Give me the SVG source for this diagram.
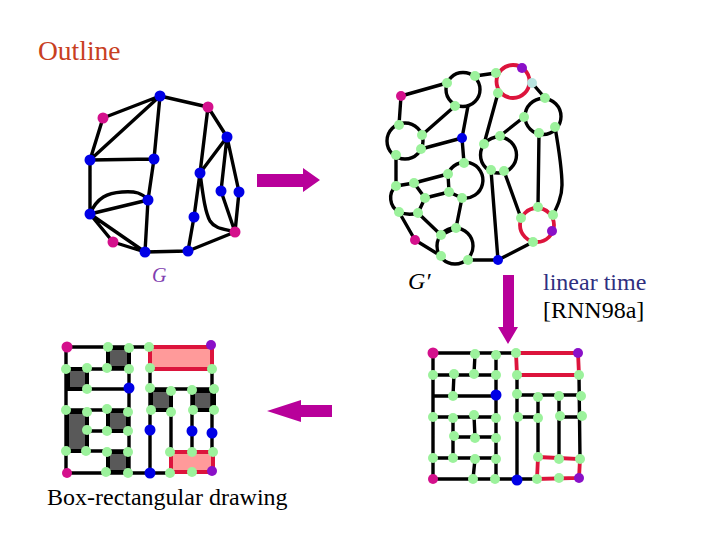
<svg xmlns="http://www.w3.org/2000/svg" width="720" height="540" viewBox="0 0 720 540">
<style>
.e{fill:none;stroke:#000;stroke-width:3.4;stroke-linecap:round;stroke-linejoin:round}
.r{fill:none;stroke:#dc143c;stroke-width:3.8;stroke-linecap:round}
.f{fill:#ff9a9a;stroke:#dc143c;stroke-width:4}
.k{fill:#595959;stroke:#000;stroke-width:4}
.g circle{fill:#9cf29c}
.b circle{fill:#0000e6}
.m circle{fill:#d4108c}
.p circle{fill:#8a10c8}
.c circle{fill:#b8e4e0}
.a{fill:#b8009a}
text{font-family:"Liberation Serif","Times New Roman",serif}
</style>
<rect width="720" height="540" fill="#fff"/>
<text x="38" y="60" font-size="27.500" fill="#c8401f">Outline</text>
<text x="152" y="282" font-size="20" font-style="italic" fill="#8040b0">G</text>
<text x="408" y="289" font-size="24" font-style="italic" fill="#000">G′</text>
<text x="543" y="290" font-size="24" fill="#2f2f80">linear time</text>
<text x="543" y="318" font-size="24" fill="#000">[RNN98a]</text>
<text x="47" y="505" font-size="24" fill="#000">Box-rectangular drawing</text>
<polygon class="a" points="257,174 303,174 303,168 320,180 303,192 303,187 257,187"/>
<polygon class="a" points="503,275 514,275 514,327 518,327 508,344 498,327 503,327"/>
<polygon class="a" points="332,405 301,405 301,400 267,411 301,422 301,417 332,417"/>
<g id="connectors">
<path class="e" d="M160 96L103 118M160 96L208 107M160 96L90 160M160 96L154 159M103 118L90 160M90 160L154 159M90 160L90 214M154 159L148 200M148 200L145 252M90 214L148 200M90 214C97 197 108 193 122 192C136 191 142 193 148 200M90 214L113 242M113 242L145 252M90 214L145 252M145 252L188 251M188 251L235 232M188 251L194 217M194 217L200 173M200 173L208 107M208 107L227 137M227 137L200 173M227 137L221 191M227 137L239 192M221 191L235 232M239 192L235 232M200 173C203 195 205 212 210 221C215 229 225 229 235 232"/>
<path class="e" d="M401 96L447 83M401 96L399 125M475 76L496 73M455 106L422 135M468 106L462 138M421 149L462 138M462 138L464 163M498 93L484 144M532 83L545 98M524 117L500 136M539 133L538 207M555 127C559 150 562 170 562 185C562 197 557 207 553 215M491 170L498 260M504 171L521 218M498 260L533 242M396 155L396 186M396 186L414 183M414 183L448 174M425 198L449 192M414 183L425 198M425 198L418 213M448 174L449 192M449 192L462 198M399 212L415 240M415 240L441 256M418 213L441 235M462 198L456 228M456 228L441 235M468 260L498 260"/>
<circle class="e" cx="463" cy="89.500" r="17"/>
<circle class="e" cx="405" cy="141" r="18"/>
<circle class="e" cx="543" cy="116.500" r="18"/>
<circle class="e" cx="498.500" cy="155" r="18"/>
<path class="e" d="M448 174A18 18 0 1 1 462 198"/>
<path class="e" d="M396 186A16 16 0 0 0 399 212Q408 216 418 213"/>
<circle class="e" cx="455" cy="246" r="18"/>
<circle class="r" cx="513" cy="81.500" r="16.500"/>
<circle class="r" cx="537" cy="225" r="17"/>
<path class="e" d="M433 353L516 353M433 375L496 375M433 396L496 396M433 417L496 417M454 437L496 437M433 458L496 458M433 479L537 479M517 395L581 395M518 417L538 417M560 417L582 417M433 353L433 479M475 354L474 374M496 355L496 479M454 374L453 396M453 417L453 458M474 415L475 438M475 459L473 479M517 375L517 480M538 397L538 457M559 396L559 459M579 375L580 459"/>
<path class="r" d="M516 353L578 353L579 375L517 375L516 353M538 457L580 459L579 478L537 479L538 457"/>
<rect class="k" x="108" y="348" width="21" height="20"/>
<rect class="k" x="68" y="369" width="19" height="20"/>
<rect class="k" x="67" y="412" width="20" height="39"/>
<rect class="k" x="108" y="411" width="20" height="20"/>
<rect class="k" x="108" y="452" width="20" height="20"/>
<rect class="k" x="151" y="390" width="20" height="20"/>
<rect class="k" x="193" y="391" width="21" height="19"/>
<path class="e" d="M67 347L149 347M66 347L66 473M67 473L170 473M66 369L129 369M129 348L129 473M87 389L129 389M66 410L128 410M87 431L128 431M66 451L128 451M150 368L150 473M171 391L171 452M192 390L192 452M150 389L214 389M212 369L212 452"/>
<rect class="f" x="150" y="347" width="62" height="22"/>
<rect class="f" x="171" y="452" width="42" height="20"/>
</g>
<g id="G" class="b">
<g id="g1"><circle cx="160" cy="96" r="5.500"/></g><g id="g2"><circle cx="227" cy="137" r="5.500"/></g><g id="g3"><circle cx="90" cy="160" r="5.500"/></g><g id="g4"><circle cx="154" cy="159" r="5.500"/></g><g id="g5"><circle cx="200" cy="173" r="5.500"/></g><g id="g6"><circle cx="221" cy="191" r="5.500"/></g><g id="g7"><circle cx="239" cy="192" r="5.500"/></g><g id="g8"><circle cx="148" cy="200" r="5.500"/></g><g id="g9"><circle cx="90" cy="214" r="5.500"/></g><g id="g10"><circle cx="194" cy="217" r="5.500"/></g><g id="g11"><circle cx="145" cy="252" r="5.500"/></g><g id="g12"><circle cx="188" cy="251" r="5.500"/></g>
</g>
<g class="m">
<g id="g13"><circle cx="208" cy="107" r="5.500"/></g><g id="g14"><circle cx="103" cy="118" r="5.500"/></g><g id="g15"><circle cx="235" cy="232" r="5.500"/></g><g id="g16"><circle cx="113" cy="242" r="5.500"/></g>
<g id="h1"><circle cx="401" cy="96" r="5"/></g><g id="h2"><circle cx="415" cy="240" r="5"/></g>
<g id="l1"><circle cx="67" cy="347" r="5.500"/></g><g id="l2"><circle cx="67" cy="473" r="5"/></g>
<g id="t1"><circle cx="433" cy="353" r="5.500"/></g><g id="t2"><circle cx="433" cy="479" r="5"/></g>
</g>
<g class="p">
<g id="h3"><circle cx="522" cy="68" r="5"/></g><g id="h4"><circle cx="552" cy="231" r="5"/></g>
<g id="l3"><circle cx="211" cy="345" r="5"/></g><g id="l4"><circle cx="212" cy="471" r="5"/></g>
<g id="t3"><circle cx="578" cy="353" r="5"/></g><g id="t4"><circle cx="579" cy="478" r="5"/></g>
</g>
<g class="c"><g id="h5"><circle cx="532" cy="83" r="5"/></g></g>
<g class="b">
<g id="h6"><circle cx="462" cy="138" r="5"/></g><g id="h7"><circle cx="498" cy="260" r="5"/></g>
<g id="l5"><circle cx="129" cy="388" r="5.500"/></g><g id="l6"><circle cx="150" cy="430" r="5.500"/></g><g id="l7"><circle cx="192" cy="431" r="5.500"/></g><g id="l8"><circle cx="212" cy="433" r="5.500"/></g><g id="l9"><circle cx="150" cy="473" r="5.500"/></g>
<g id="t5"><circle cx="496" cy="395" r="5.500"/></g><g id="t6"><circle cx="517" cy="480" r="5.500"/></g>
</g>
<g class="g">
<g id="h8"><circle cx="447" cy="83" r="5"/></g><g id="h9"><circle cx="475" cy="76" r="5"/></g><g id="h10"><circle cx="496" cy="73" r="5"/></g><g id="h11"><circle cx="498" cy="93" r="5"/></g><g id="h12"><circle cx="455" cy="106" r="5"/></g><g id="h13"><circle cx="545" cy="98" r="5"/></g><g id="h14"><circle cx="524" cy="117" r="5"/></g><g id="h15"><circle cx="555" cy="127" r="5"/></g><g id="h16"><circle cx="539" cy="133" r="5"/></g><g id="h17"><circle cx="399" cy="125" r="5"/></g><g id="h18"><circle cx="422" cy="135" r="5"/></g><g id="h19"><circle cx="421" cy="149" r="5"/></g><g id="h20"><circle cx="396" cy="155" r="5"/></g><g id="h21"><circle cx="500" cy="136" r="5"/></g><g id="h22"><circle cx="484" cy="144" r="5"/></g><g id="h23"><circle cx="464" cy="163" r="5"/></g><g id="h24"><circle cx="491" cy="170" r="5"/></g><g id="h25"><circle cx="504" cy="171" r="5"/></g><g id="h26"><circle cx="448" cy="174" r="5"/></g><g id="h27"><circle cx="396" cy="186" r="5"/></g><g id="h28"><circle cx="414" cy="183" r="5"/></g><g id="h29"><circle cx="449" cy="192" r="5"/></g><g id="h30"><circle cx="425" cy="198" r="5"/></g><g id="h31"><circle cx="462" cy="198" r="5"/></g><g id="h32"><circle cx="399" cy="212" r="5"/></g><g id="h33"><circle cx="418" cy="213" r="5"/></g><g id="h34"><circle cx="538" cy="207" r="5"/></g><g id="h35"><circle cx="553" cy="215" r="5"/></g><g id="h36"><circle cx="521" cy="218" r="5"/></g><g id="h37"><circle cx="456" cy="228" r="5"/></g><g id="h38"><circle cx="441" cy="235" r="5"/></g><g id="h39"><circle cx="533" cy="242" r="5"/></g><g id="h40"><circle cx="441" cy="256" r="5"/></g><g id="h41"><circle cx="468" cy="260" r="5"/></g>
<g id="l10"><circle cx="108" cy="347" r="5"/></g><g id="l11"><circle cx="129" cy="348" r="5"/></g><g id="l12"><circle cx="149" cy="347" r="5"/></g><g id="l13"><circle cx="66" cy="369" r="5"/></g><g id="l14"><circle cx="87" cy="368" r="5"/></g><g id="l15"><circle cx="107" cy="368" r="5"/></g><g id="l16"><circle cx="129" cy="369" r="5"/></g><g id="l17"><circle cx="150" cy="368" r="5"/></g><g id="l18"><circle cx="212" cy="369" r="5"/></g><g id="l19"><circle cx="87" cy="389" r="5"/></g><g id="l20"><circle cx="150" cy="388" r="5"/></g><g id="l21"><circle cx="171" cy="391" r="5"/></g><g id="l22"><circle cx="192" cy="390" r="5"/></g><g id="l23"><circle cx="214" cy="389" r="5"/></g><g id="l24"><circle cx="66" cy="410" r="5"/></g><g id="l25"><circle cx="87" cy="412" r="5"/></g><g id="l26"><circle cx="107" cy="409" r="5"/></g><g id="l27"><circle cx="128" cy="412" r="5"/></g><g id="l28"><circle cx="151" cy="410" r="5"/></g><g id="l29"><circle cx="171" cy="412" r="5"/></g><g id="l30"><circle cx="193" cy="410" r="5"/></g><g id="l31"><circle cx="214" cy="410" r="5"/></g><g id="l32"><circle cx="87" cy="430" r="5"/></g><g id="l33"><circle cx="107" cy="431" r="5"/></g><g id="l34"><circle cx="128" cy="431" r="5"/></g><g id="l35"><circle cx="66" cy="451" r="5"/></g><g id="l36"><circle cx="86" cy="451" r="5"/></g><g id="l37"><circle cx="107" cy="452" r="5"/></g><g id="l38"><circle cx="128" cy="452" r="5"/></g><g id="l39"><circle cx="170" cy="452" r="5"/></g><g id="l40"><circle cx="192" cy="452" r="5"/></g><g id="l41"><circle cx="213" cy="452" r="5"/></g><g id="l42"><circle cx="106" cy="472" r="5"/></g><g id="l43"><circle cx="128" cy="473" r="5"/></g><g id="l44"><circle cx="170" cy="473" r="5"/></g><g id="l45"><circle cx="192" cy="472" r="5"/></g>
<g id="t7"><circle cx="475" cy="354" r="5"/></g><g id="t8"><circle cx="496" cy="355" r="5"/></g><g id="t9"><circle cx="516" cy="353" r="5"/></g><g id="t10"><circle cx="433" cy="375" r="5"/></g><g id="t11"><circle cx="454" cy="374" r="5"/></g><g id="t12"><circle cx="474" cy="374" r="5"/></g><g id="t13"><circle cx="496" cy="375" r="5"/></g><g id="t14"><circle cx="517" cy="375" r="5"/></g><g id="t15"><circle cx="579" cy="375" r="5"/></g><g id="t16"><circle cx="453" cy="396" r="5"/></g><g id="t17"><circle cx="517" cy="394" r="5"/></g><g id="t18"><circle cx="538" cy="397" r="5"/></g><g id="t19"><circle cx="559" cy="396" r="5"/></g><g id="t20"><circle cx="581" cy="396" r="5"/></g><g id="t21"><circle cx="433" cy="417" r="5"/></g><g id="t22"><circle cx="453" cy="418" r="5"/></g><g id="t23"><circle cx="474" cy="415" r="5"/></g><g id="t24"><circle cx="496" cy="418" r="5"/></g><g id="t25"><circle cx="518" cy="417" r="5"/></g><g id="t26"><circle cx="538" cy="418" r="5"/></g><g id="t27"><circle cx="560" cy="416" r="5"/></g><g id="t28"><circle cx="582" cy="416" r="5"/></g><g id="t29"><circle cx="454" cy="436" r="5"/></g><g id="t30"><circle cx="475" cy="438" r="5"/></g><g id="t31"><circle cx="496" cy="438" r="5"/></g><g id="t32"><circle cx="433" cy="458" r="5"/></g><g id="t33"><circle cx="453" cy="458" r="5"/></g><g id="t34"><circle cx="475" cy="459" r="5"/></g><g id="t35"><circle cx="496" cy="459" r="5"/></g><g id="t36"><circle cx="538" cy="457" r="5"/></g><g id="t37"><circle cx="559" cy="459" r="5"/></g><g id="t38"><circle cx="580" cy="459" r="5"/></g><g id="t39"><circle cx="473" cy="479" r="5"/></g><g id="t40"><circle cx="495" cy="479" r="5"/></g><g id="t41"><circle cx="537" cy="479" r="5"/></g><g id="t42"><circle cx="559" cy="478" r="5"/></g>
</g>
</svg>
